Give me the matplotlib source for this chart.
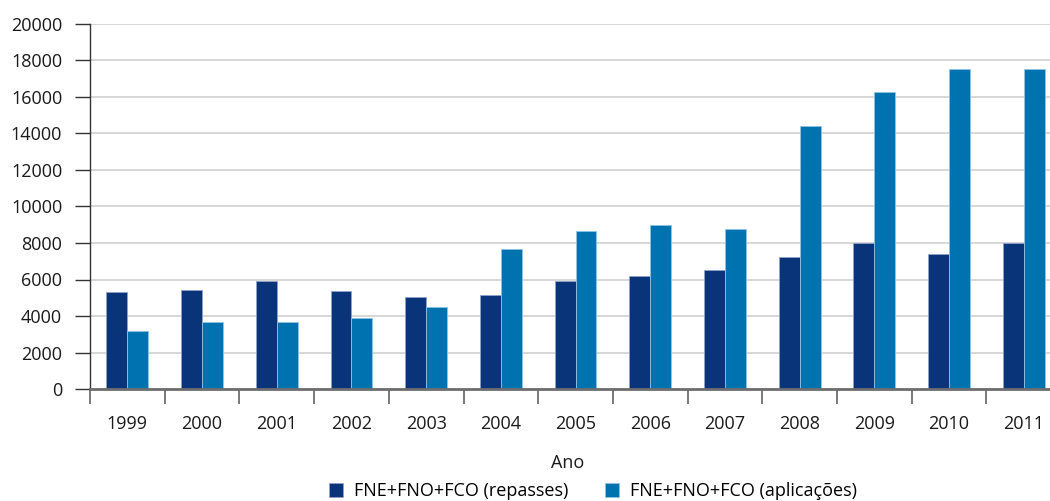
import numpy as np
import matplotlib
matplotlib.use('Agg')
import matplotlib.pyplot as plt

# values
anos = ['1999', '2000', '2001', '2002', '2003', '2004', '2005',
        '2006', '2007', '2008', '2009', '2010', '2011']
repasses = [5330, 5420, 5935, 5370, 5060, 5150, 5920,
            6210, 6520, 7250, 7980, 7380, 8000]
aplicacoes = [3180, 3670, 3670, 3910, 4490, 7670, 8660,
              8990, 8750, 14410, 16260, 17530, 17520]
yticks = [0, 2000, 4000, 6000, 8000, 10000, 12000, 14000, 16000, 18000, 20000]

plt.rcParams['font.family'] = ['Open Sans', 'DejaVu Sans']

fig = plt.figure(figsize=(10.5, 5.01), dpi=100)
ax = fig.add_axes([90/1050, 1-389/501, 1-90/1050, (389-24)/501])

x = np.arange(len(anos))
w = 0.28
ax.bar(x - w/2, repasses, w, color='#0a347a', edgecolor='#8fa3c8', linewidth=0.6,
       label='FNE+FNO+FCO (repasses)', zorder=3)
ax.bar(x + w/2, aplicacoes, w, color='#0072b0', edgecolor='#8cc4e4', linewidth=0.6,
       label='FNE+FNO+FCO (aplicações)', zorder=3)

ax.set_yticks(yticks)
ax.set_yticklabels([str(v) for v in yticks], fontsize=13, color='#1a1a1a')
ax.yaxis.grid(True, color='#d4d4d4', linewidth=1.3, zorder=0)

# year labels in the middle of each slot, ticks on slot borders
ax.set_xticks(np.arange(len(anos) + 1) - 0.5)
ax.set_xticklabels([])
ax.set_xticks(x, minor=True)
ax.set_xticklabels(anos, minor=True, fontsize=13, color='#1a1a1a')
ax.tick_params(axis='x', which='major', length=11, width=1.3, color='#6e6e6e', direction='out')
ax.tick_params(axis='x', which='minor', length=0, pad=19)
ax.tick_params(axis='y', length=11, width=1.0, color='#333333', pad=9)

# limits after the ticks so set_xticks does not widen them
ax.set_ylim(0, 20000)
ax.set_xlim(-0.5, -0.5 + 960/74.7)

for s in ['top', 'right']:
    ax.spines[s].set_visible(False)
ax.spines['left'].set_color('#333333')
ax.spines['left'].set_linewidth(1.0)
ax.spines['bottom'].set_color('#6e6e6e')
ax.spines['bottom'].set_linewidth(2.0)
ax.spines['bottom'].set_zorder(4)

fig.text(568/1050, 1-463/501, 'Ano', ha='center', va='center', fontsize=13, color='#1a1a1a')
fig.legend(loc='center', bbox_to_anchor=(593/1050, 1-491/501), ncol=2, frameon=False,
           fontsize=13, handlelength=0.8, handleheight=0.8, handletextpad=0.6,
           columnspacing=2.0, borderaxespad=0)

fig.savefig('out.png', dpi=100)
